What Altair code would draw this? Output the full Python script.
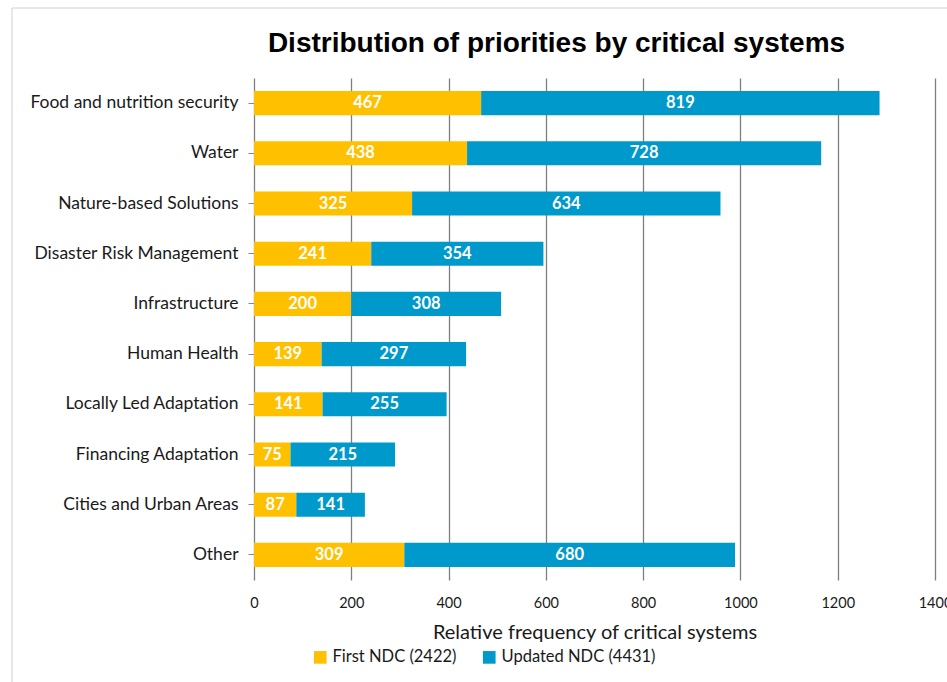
import altair as alt
import pandas as pd

categories = [
    "Food and nutrition security", "Water", "Nature-based Solutions",
    "Disaster Risk Management", "Infrastructure", "Human Health",
    "Locally Led Adaptation", "Financing Adaptation",
    "Cities and Urban Areas", "Other",
]
first_ndc = [467, 438, 325, 241, 200, 139, 141, 75, 87, 309]
updated_ndc = [819, 728, 634, 354, 308, 297, 255, 215, 141, 680]
series_names = ["First NDC (2422)", "Updated NDC (4431)"]
colors = ["#FFC000", "#0099CC"]
x_ticks = [0, 200, 400, 600, 800, 1000, 1200, 1400]

rows = []
for c, a, b in zip(categories, first_ndc, updated_ndc):
    rows.append({"cat": c, "series": series_names[0], "order": 0, "value": a})
    rows.append({"cat": c, "series": series_names[1], "order": 1, "value": b})
df = pd.DataFrame(rows)

FONT = "Lato"

base = alt.Chart(df).transform_stack(
    stack="value", groupby=["cat"], as_=["x0", "x1"],
    sort=[alt.SortField("order", order="ascending")],
).transform_calculate(mid="(datum.x0 + datum.x1) / 2")

y_enc = alt.Y("cat:N", sort=categories, title=None,
              scale=alt.Scale(paddingInner=0.52, paddingOuter=0.26),
              axis=alt.Axis(labelFont=FONT, labelFontSize=17.5, labelColor="#1a1a1a",
                            tickSize=6, tickColor="#888888", labelPadding=10,
                            labelLimit=0, domain=False, grid=False))

x_scale = alt.Scale(domain=[0, 1400], nice=False, zero=True)

bars = base.mark_bar().encode(
    y=y_enc,
    x=alt.X("x0:Q", scale=x_scale, title="Relative frequency of critical systems",
            axis=alt.Axis(values=x_ticks, format="d", grid=True, gridColor="#7f7f7f",
                          gridWidth=1.3, domain=False, ticks=False, labelPadding=16,
                          labelFlush=False,
                          labelFont=FONT, labelFontSize=14.5, labelColor="#1a1a1a",
                          titleFont=FONT, titleFontSize=20, titleFontWeight="normal",
                          titleColor="#1a1a1a", titlePadding=13)),
    x2="x1:Q",
    color=alt.Color("series:N", scale=alt.Scale(domain=series_names, range=colors),
                    legend=alt.Legend(title=None, orient="none", direction="horizontal",
                                      legendX=58, legendY=571, symbolType="square",
                                      symbolSize=160, symbolStrokeWidth=0,
                                      labelFont=FONT, labelFontSize=16.5,
                                      labelColor="#1a1a1a", columnPadding=24,
                                      symbolOpacity=1)),
    order=alt.Order("order:Q"),
)

labels = base.mark_text(color="white", fontWeight="bold", font=FONT, fontSize=16.5).encode(
    y=alt.Y("cat:N", sort=categories),
    x=alt.X("mid:Q", scale=x_scale),
    text=alt.Text("value:Q"),
)

frame = alt.Chart(pd.DataFrame({"k": [0]})).mark_rect(
    fill=None, stroke="#d0d0d0", strokeWidth=1
).encode(x=alt.value(-242), x2=alt.value(720), y=alt.value(-70), y2=alt.value(720))

chart = alt.layer(frame, bars, labels).properties(
    width=681, height=502,
    padding={"left": 254, "top": 78, "right": 12, "bottom": 102},
    autosize=alt.AutoSizeParams(type="none"),
    title=alt.TitleParams("Distribution of priorities by critical systems",
                          font="Liberation Sans", fontSize=28, fontWeight="bold",
                          color="#000000", anchor="middle", frame="group",
                          dx=-38, offset=0, dy=50),
).configure_view(stroke=None)

chart.save("out.html", embed_options={"renderer": "svg", "actions": False})
